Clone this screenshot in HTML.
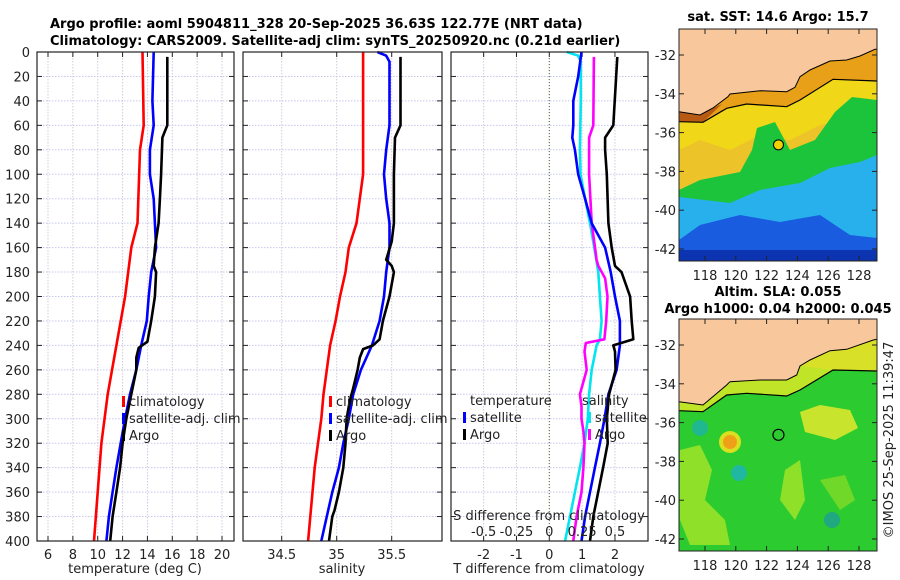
<!DOCTYPE html>
<html><head><meta charset="utf-8"><style>
html,body{margin:0;padding:0;background:#fff;}
svg{display:block;font-family:"DejaVu Sans","Liberation Sans",sans-serif;}
</style></head><body>
<svg id="fig" width="900" height="580" viewBox="0 0 900 580" xmlns="http://www.w3.org/2000/svg">
<text x="50" y="28" font-size="13" font-weight="bold">Argo profile: aoml 5904811_328 20-Sep-2025 36.63S 122.77E (NRT data)</text>
<text x="50" y="45" font-size="13" font-weight="bold">Climatology: CARS2009. Satellite-adj clim: synTS_20250920.nc (0.21d earlier)</text>
<text x="778" y="21" font-size="13" font-weight="bold" text-anchor="middle">sat. SST: 14.6 Argo: 15.7</text>
<text x="778" y="296" font-size="13" font-weight="bold" text-anchor="middle">Altim. SLA: 0.055</text>
<text x="778" y="313" font-size="13" font-weight="bold" text-anchor="middle">Argo h1000: 0.04 h2000: 0.045</text>
<text transform="translate(893,440) rotate(-90)" font-size="13" text-anchor="middle" fill="#222">©IMOS 25-Sep-2025 11:39:47</text>
<g id="plots"></g>
</svg>
<script>
// ---- data ----
const depthTicks=[0,20,40,60,80,100,120,140,160,180,200,220,240,260,280,300,320,340,360,380,400];
const tempTicks=[6,8,10,12,14,16,18,20];
const salTicks=[34.5,35,35.5];
const tdiffTicks=[-2,-1,0,1,2];
const sdiffTicks=[-0.5,-0.25,0,0.25,0.5];
const sdiffLabels=["-0.5","-0.25","0","0.25","0.5"];
const latTicks=[-32,-34,-36,-38,-40,-42];
const lonTicks=[118,120,122,124,126,128];

const tClimDepth=[0,60,80,140,160,200,240,280,320,360,400];
const tClim=[13.6,13.7,13.4,13.2,12.7,12.2,11.5,10.8,10.3,10.0,9.7];
const tSatDepth=[0,40,60,80,100,120,140,160,180,200,220,240,260,280,300,320,340,360,380,400];
const tSat=[14.5,14.4,14.5,14.2,14.2,14.5,14.6,14.7,14.3,14.1,13.95,13.5,13.1,12.6,12.2,11.85,11.5,11.2,10.9,10.7];
const tArgoDepth=[4,60,65,70,100,120,140,160,175,180,200,220,237,242,250,260,280,300,320,340,360,380,400];
const tArgo=[15.6,15.6,15.4,15.2,15.1,15.0,14.9,14.6,14.5,14.7,14.6,14.3,14.0,13.3,13.1,13.1,12.7,12.3,12.0,11.8,11.5,11.2,11.0];

const sClimDepth=[0,100,120,140,160,180,200,220,240,260,280,300,320,340,360,380,400];
const sClim=[35.24,35.24,35.21,35.18,35.11,35.08,35.03,34.99,34.94,34.91,34.88,34.86,34.83,34.80,34.78,34.76,34.74];
const sSatDepth=[0,3,8,60,80,100,120,140,160,180,200,220,240,260,280,300,320,340,360,380,400];
const sSat=[35.37,35.45,35.48,35.48,35.45,35.43,35.45,35.48,35.48,35.45,35.43,35.39,35.32,35.22,35.15,35.11,35.06,35.02,34.96,34.91,34.86];
const sArgoDepth=[4,60,70,100,140,155,170,175,180,200,220,235,240,243,250,260,275,285,300,320,340,360,375,380,400];
const sArgo=[35.58,35.58,35.53,35.52,35.52,35.50,35.45,35.50,35.52,35.48,35.42,35.39,35.33,35.24,35.21,35.19,35.15,35.12,35.09,35.08,35.06,35.02,34.98,34.96,34.93];

const dTSatDepth=[0,20,40,60,70,80,100,120,140,160,180,200,220,240,260,280,300,320,340,360,380,400];
const dTSat=[0.98,0.88,0.73,0.73,0.70,0.78,0.88,1.09,1.29,1.70,1.87,2.0,2.15,2.15,2.05,1.80,1.68,1.54,1.39,1.24,1.09,0.98];
const dTArgoDepth=[4,60,70,80,100,140,160,175,180,200,220,235,240,245,260,280,300,320,340,360,380,400];
const dTArgo=[2.07,1.95,1.70,1.70,1.75,1.80,1.90,2.0,2.2,2.46,2.51,2.56,1.95,2.0,2.02,1.82,1.75,1.78,1.64,1.49,1.34,1.24];
const dSSatDepth=[0,3,8,40,80,100,120,140,160,180,200,220,235,240,260,280,300,320,340,360,380,400];
const dSSat=[0.133,0.22,0.24,0.24,0.233,0.238,0.273,0.31,0.343,0.373,0.385,0.398,0.385,0.36,0.323,0.303,0.293,0.268,0.233,0.195,0.158,0.12];
const dSArgoDepth=[4,60,70,100,140,160,170,175,185,200,220,235,238,245,260,280,290,300,310,320,340,360,380,400];
const dSArgo=[0.34,0.335,0.303,0.303,0.323,0.348,0.36,0.373,0.425,0.443,0.433,0.42,0.278,0.268,0.285,0.233,0.245,0.245,0.26,0.268,0.26,0.245,0.208,0.183];

const argoLon=122.77, argoLat=-36.63;

// ---- scales ----
const Y0=52, Y1=541;
const yD=d=>Y0+d*(Y1-Y0)/400;
const xT=t=>48+(t-6)*12.43;
const xS=s=>336.7+(s-35)*110;
const xDT=d=>549.3+d*32.83;
const xDS=s=>549.3+s*131.3;
const xLon=l=>705+(l-118)*15.4;
const yLat1=l=>55+(-32-l)*19.4;
const yLat2=l=>345+(-32-l)*19.4;

const NS="http://www.w3.org/2000/svg";
const root=document.getElementById('plots');
function mk(tag,attrs,parent){const e=document.createElementNS(NS,tag);for(const k in attrs)e.setAttribute(k,attrs[k]);(parent||root).appendChild(e);return e;}
function txt(x,y,s,size,anchor,parent){const t=mk('text',{x:x,y:y,'font-size':size,'text-anchor':anchor||'middle',fill:'#222'},parent);t.textContent=s;return t;}

function panel(name,x0,x1,xticks,xf,labels){
  const g=mk('g',{});
  
  
  mk('rect',{x:x0,y:Y0,width:x1-x0,height:Y1-Y0,fill:'#fff'},g);
  depthTicks.forEach(d=>{
    const l=mk('line',{x1:x0,x2:x1,y1:yD(d),y2:yD(d),stroke:'#c4c8ec','stroke-width':1,'stroke-dasharray':'1.5,1.5'},g);
    
    
    mk('line',{x1:x0,x2:x0+5,y1:yD(d),y2:yD(d),stroke:'#222'},g);
    mk('line',{x1:x1-5,x2:x1,y1:yD(d),y2:yD(d),stroke:'#222'},g);
  });
  xticks.forEach((v,i)=>{
    const x=xf(v);
    const l=mk('line',{x1:x,x2:x,y1:Y0,y2:Y1,stroke:'#d4c8e0','stroke-width':1,'stroke-dasharray':'1.5,1.5'},g);
    
    
    mk('line',{x1:x,x2:x,y1:Y1-5,y2:Y1,stroke:'#222'},g);
    mk('line',{x1:x,x2:x,y1:Y0,y2:Y0+5,stroke:'#222'},g);
    const t=txt(x,559,labels?labels[i]:String(v),13);
    
    
  });
  return g;
}
function frame(g,x0,x1){mk('rect',{x:x0,y:Y0,width:x1-x0,height:Y1-Y0,fill:'none',stroke:'#222','stroke-width':1.2},g);}
function series(g,name,ds,vs,xf,color){
  const pts=ds.map((d,i)=>xf(vs[i]).toFixed(1)+','+yD(d).toFixed(1)).join(' ');
  const p=mk('polyline',{points:pts,fill:'none',stroke:color,'stroke-width':2.6,'stroke-linejoin':'round'},g);
  
  
}
function legendRow(g,x,y,color,label,name){
  const r=mk('rect',{x:x-2,y:y-10,width:3,height:11,fill:color},g);
  
  
  const t=txt(x+5,y,label,13,'start',g);
  
  
}

// y tick labels
depthTicks.forEach(d=>{
  const t=txt(30,yD(d)+5,String(d),13,'end');
  
  
});

// Panel 1 temperature
const g1=panel('temperature-panel',37,234,tempTicks,xT);
series(g1,'temp-climatology-line',tClimDepth,tClim,xT,'#ff0000');
series(g1,'temp-satellite-line',tSatDepth,tSat,xT,'#0000ff');
series(g1,'temp-argo-line',tArgoDepth,tArgo,xT,'#000');
legendRow(g1,124,406,'#ff0000','climatology','legend-climatology');
legendRow(g1,124,423,'#0000ff','satellite-adj. clim','legend-satellite-adj');
legendRow(g1,124,440,'#000','Argo','legend-argo');
frame(g1,37,234);
const xl1=txt(135,573,'temperature (deg C)',13);



// Panel 2 salinity
const g2=panel('salinity-panel',243,442,salTicks,xS);
series(g2,'sal-climatology-line',sClimDepth,sClim,xS,'#ff0000');
series(g2,'sal-satellite-line',sSatDepth,sSat,xS,'#0000ff');
series(g2,'sal-argo-line',sArgoDepth,sArgo,xS,'#000');
legendRow(g2,331,406,'#ff0000','climatology','legend-climatology');
legendRow(g2,331,423,'#0000ff','satellite-adj. clim','legend-satellite-adj');
legendRow(g2,331,440,'#000','Argo','legend-argo');
frame(g2,243,442);
const xl2=txt(342,573,'salinity',13);



// Panel 3 differences
const g3=panel('difference-panel',451,648,tdiffTicks,xDT);
const zl=mk('line',{x1:xDT(0),x2:xDT(0),y1:Y0,y2:Y1,stroke:'#556b2f','stroke-width':1,'stroke-dasharray':'1,2'},g3);


series(g3,'sdiff-satellite-line',dSSatDepth,dSSat,xDS,'#00e5ee');
series(g3,'sdiff-argo-line',dSArgoDepth,dSArgo,xDS,'#ff00ff');
series(g3,'tdiff-satellite-line',dTSatDepth,dTSat,xDT,'#0000ff');
series(g3,'tdiff-argo-line',dTArgoDepth,dTArgo,xDT,'#000');
const lt=txt(470,405,'temperature',13,'start',g3);


legendRow(g3,465,422,'#0000ff','satellite','legend-t-satellite');
legendRow(g3,465,439,'#000','Argo','legend-t-argo');
const ls=txt(582,405,'salinity',13,'start',g3);


legendRow(g3,590,422,'#00e5ee','satellite','legend-s-satellite');
legendRow(g3,590,439,'#ff00ff','Argo','legend-s-argo');
const st=txt(549,520,'S difference from climatology',13,'middle',g3);


sdiffTicks.forEach((v,i)=>{
  const t=txt(xDS(v),536,sdiffLabels[i],13,'middle',g3);
  
  
});
frame(g3,451,648);
const xl3=txt(549,573,'T difference from climatology',13);



// ---- maps ----
const coast1=[[679,111.7],[700,115],[713,108],[728,96.7],[730,94],[760,90.7],[786.7,91.7],[795,87.3],[800,76.7],[810,70],[830,61],[846.7,60],[860,56],[875,49.3],[877,49.3]];
const cont1=[[679,121.7],[703,122.3],[726.7,108.3],[746.7,104],[786.7,106.7],[800,100],[833,79.3],[877,81]];
const coast2=[[679,401.7],[703,405],[726.7,385],[730,381.7],[760,380],[786.7,380],[796.7,375],[800,366],[810,360],[830,350.7],[846.7,349.3],[873.3,340],[877,339.3]];
const cont2=[[679,410.7],[703,411.7],[726.7,395],[746.7,393.3],[786.7,396],[800,390],[833,370],[877,371]];
const P=a=>a.map(p=>p.join(',')).join(' ');
function poly(g,pts,fill,name){const p=mk('polygon',{points:pts,fill:fill},g);return p;}

function mapFrame(g,top,bot,yLat,name){
  mk('rect',{x:679,y:top,width:198,height:bot-top,fill:'none',stroke:'#222','stroke-width':1},g);
  latTicks.forEach(l=>{
    const y=yLat(l);
    mk('line',{x1:679,x2:684,y1:y,y2:y,stroke:'#222'},g);
    mk('line',{x1:872,x2:877,y1:y,y2:y,stroke:'#222'},g);
    const t=txt(676,y+5,String(l),13,'end',g);
    
    
  });
  lonTicks.forEach(l=>{
    const x=xLon(l);
    mk('line',{x1:x,x2:x,y1:bot-5,y2:bot,stroke:'#222'},g);
    mk('line',{x1:x,x2:x,y1:top,y2:top+5,stroke:'#222'},g);
    const t=txt(x,bot+19,String(l),13,'middle',g);
    
    
  });
}

// Map 1 SST
const m1=mk('g',{});


mk('rect',{x:679,y:29,width:198,height:232,fill:'#f0d818'},m1);
poly(m1,'679,150 700,140 730,150 760,135 790,140 820,125 850,120 877,115 877,261 679,261','#ecc42a','sst-warm-patch');
poly(m1,'679,190 700,180 740,172 752,150 757,128 775,122 790,150 815,140 835,112 852,97 877,100 877,261 679,261','#1cc43c','sst-green-region');
poly(m1,'679,197 730,203 760,190 800,183 830,168 860,162 877,155 877,261 679,261','#28b0ec','sst-blue-region');
poly(m1,'700,225 740,215 780,222 820,215 850,235 877,238 877,261 679,261 679,240','#1a5ce0','sst-deepblue-region');
poly(m1,'679,250 877,250 877,261 679,261','#0c34b0','sst-darkblue-band');
poly(m1,P(coast1)+' '+P(cont1.slice().reverse()),'#e8a018','sst-shelf-orange');
poly(m1,'679,111.7 700,115 713,108 722,104 703,122.3 679,121.7','#b85a14','sst-shelf-dark');
poly(m1,'679,29 877,29 '+P(coast1.slice().reverse()),'#f8c89c','sst-land');
mk('polyline',{points:P(coast1),fill:'none',stroke:'#000','stroke-width':1},m1);
mk('polyline',{points:P(cont1),fill:'none',stroke:'#000','stroke-width':1.2},m1);
const c1=mk('circle',{cx:xLon(argoLon),cy:yLat1(argoLat),r:5,fill:'#f0d000',stroke:'#000','stroke-width':1},m1);


mapFrame(m1,29,261,yLat1);

// Map 2 SLA
const m2=mk('g',{});


mk('rect',{x:679,y:319,width:198,height:232,fill:'#2ccc30'},m2);
poly(m2,'680,450 700,445 712,470 705,500 725,520 730,545 690,545 680,520','#8ee028','sla-yellowgreen-left');
poly(m2,'800,412 820,405 850,410 858,428 835,440 805,432','#c8e42c','sla-yellow-patch');
poly(m2,'785,470 800,460 805,500 795,520 780,500','#8ee028','sla-yellowgreen-mid');
poly(m2,'820,480 845,475 855,500 840,510','#70d828','sla-yg-right');
mk('circle',{cx:730,cy:442,r:11,fill:'#d8e020'},m2);
const spot=mk('circle',{cx:730,cy:442,r:7,fill:'#f0a018'},m2);


mk('circle',{cx:700,cy:428,r:8,fill:'#20b890'},m2);
mk('circle',{cx:739,cy:473,r:8,fill:'#20b8a0'},m2);
mk('circle',{cx:832,cy:520,r:8,fill:'#20a880'},m2);
poly(m2,P(coast2)+' '+P(cont2.slice().reverse()),'#c0e428','sla-shelf');
poly(m2,'800,366 810,360 830,350.7 846.7,349.3 873.3,340 877,339.3 877,371 833,370','#d8e028','sla-shelf-east');
poly(m2,'679,319 877,319 '+P(coast2.slice().reverse()),'#f8c89c','sla-land');
mk('polyline',{points:P(coast2),fill:'none',stroke:'#000','stroke-width':1},m2);
mk('polyline',{points:P(cont2),fill:'none',stroke:'#000','stroke-width':1.2},m2);
const c2=mk('circle',{cx:xLon(argoLon),cy:yLat2(argoLat),r:5.5,fill:'none',stroke:'#000','stroke-width':1.2},m2);


mapFrame(m2,319,551,yLat2);
</script>
</body></html>
